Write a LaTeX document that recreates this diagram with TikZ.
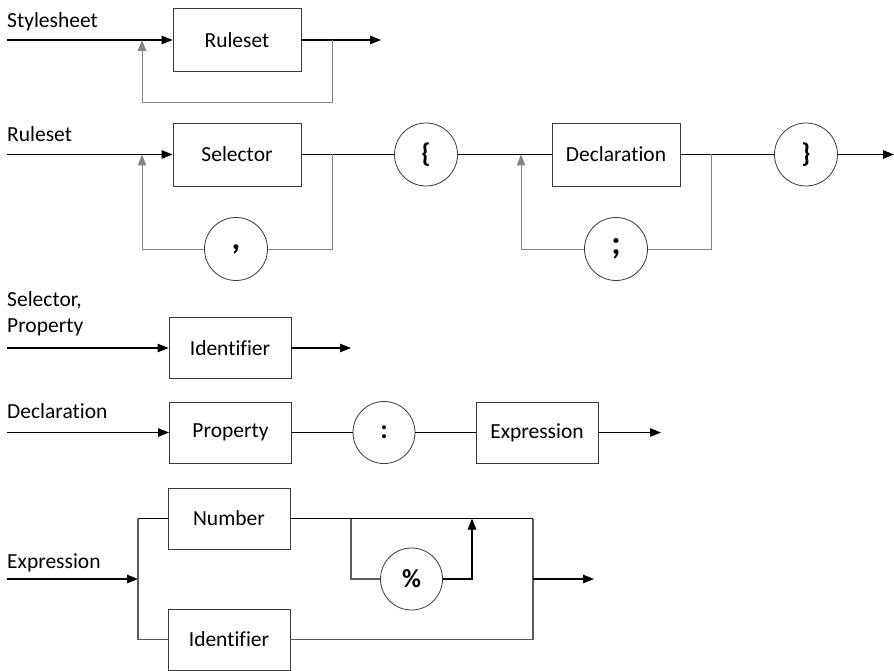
\documentclass[tikz,border=0pt]{standalone}
\usepackage{fontspec}
\setmainfont{Carlito}[Ligatures={NoCommon,NoContextual}]
\usetikzlibrary{arrows.meta}
\definecolor{boxc}{HTML}{3A3A3A}
\definecolor{loopc}{HTML}{858585}
\definecolor{midc}{HTML}{5A5A5A}
\begin{document}
\begin{tikzpicture}[x=1pt,y=-1pt,
  lbl/.style={font=\fontsize{21.5}{25}\selectfont, inner sep=0pt},
  rbox/.style={draw=boxc, line width=0.9pt, minimum width=128pt, minimum height=63pt, inner sep=0pt, font=\fontsize{21.5}{25}\selectfont},
  sbox/.style={rbox, minimum width=122pt, minimum height=61pt},
  term/.style={draw=boxc, circle, line width=0.8pt, minimum size=63pt, inner sep=0pt, font=\fontsize{27}{30}\selectfont\bfseries},
  punct/.style={term, font=\fontsize{34}{36}\selectfont\bfseries},
  wire/.style={line width=1.1pt, draw=black},
  loopw/.style={line width=1pt, draw=loopc},
  midw/.style={line width=1.1pt, draw=midc},
  arr/.style={-{Triangle[length=11pt,width=8.5pt]}}
]
\useasboundingbox (0,0) rectangle (894,671);

% ---------- Row 1: Stylesheet ----------
\node[lbl, anchor=base west] (t1) at (7,28) {Stylesheet};
\node[rbox] (r1) at (237,40) {Ruleset};
\coordinate (s1) at (7,40);
\coordinate (j1a) at (142,40);
\coordinate (j1b) at (332,40);
\coordinate (c1) at (142,103);
\coordinate (e1) at (381,40);
\draw[wire,arr] (s1) -- (r1.west);
\draw[wire,arr] (r1.east) -- (e1);
\draw[loopw,arr] (j1b) |- (c1) -- (j1a);

% ---------- Row 2: Ruleset ----------
\node[lbl, anchor=base west] (t2) at (7,142) {Ruleset};
\node[rbox] (sel) at (237,154.5) {Selector};
\node[term] (lb) at (426,154.5) {\{};
\node[rbox] (decl) at (616,154.5) {Declaration};
\node[term] (rb) at (806,154.5) {\}};
\node[punct] (comma) at (236,249) {,};
\node[punct] (semi) at (616,249) {;};
\coordinate (s2) at (7,154.5);
\coordinate (j2a) at (142,154.5);
\coordinate (j2b) at (332,154.5);
\coordinate (c2a) at (142,249);
\coordinate (j2c) at (521,154.5);
\coordinate (j2d) at (711,154.5);
\coordinate (c2c) at (521,249);
\coordinate (e2) at (894,154.5);
\draw[wire,arr] (s2) -- (sel.west);
\draw[wire] (sel.east) -- (lb.west);
\draw[wire] (lb.east) -- (decl.west);
\draw[wire] (decl.east) -- (rb.west);
\draw[wire,arr] (rb.east) -- (e2);
\draw[loopw] (j2b) |- (comma.east);
\draw[loopw,arr] (comma.west) -- (c2a) -- (j2a);
\draw[loopw] (j2d) |- (semi.east);
\draw[loopw,arr] (semi.west) -- (c2c) -- (j2c);

% ---------- Row 3: Selector, Property ----------
\node[lbl, anchor=base west] (t3a) at (7,306) {Selector,};
\node[lbl, anchor=base west] (t3b) at (7,332) {Property};
\node[sbox] (id1) at (230,348) {Identifier};
\coordinate (s3) at (7,348);
\coordinate (e3) at (351,348);
\draw[wire,arr] (s3) -- (id1.west);
\draw[wire,arr] (id1.east) -- (e3);

% ---------- Row 4: Declaration ----------
\node[lbl, anchor=base west] (t4) at (7,418) {Declaration};
\node[sbox] (prop) at (230.5,432.5) {Property};
\node[term, minimum size=62pt] (colon) at (384,432.5) {:};
\node[sbox] (expr) at (537,432.5) {Expression};
\coordinate (s4) at (7,432.5);
\coordinate (e4) at (661,432.5);
\draw[wire,arr] (s4) -- (prop.west);
\draw[wire] (prop.east) -- (colon.west);
\draw[wire] (colon.east) -- (expr.west);
\draw[wire,arr] (expr.east) -- (e4);

% ---------- Row 5: Expression ----------
\node[lbl, anchor=base west] (t5) at (7,568) {Expression};
\node[sbox] (num) at (229,518.5) {Number};
\node[sbox] (id2) at (229,639.5) {Identifier};
\node[term, minimum size=62pt, font=\fontsize{26}{28}\selectfont\bfseries] (pct) at (411.5,579) {\%};
\coordinate (s5) at (7,579);
\coordinate (j5a) at (138,579);
\coordinate (j5t) at (138,518.5);
\coordinate (j5b) at (138,639.5);
\coordinate (j5c) at (351,518.5);
\coordinate (j5d) at (472,518.5);
\coordinate (c5d) at (472,579);
\coordinate (j5e) at (533,518.5);
\coordinate (j5f) at (533,639.5);
\coordinate (j5g) at (533,579);
\coordinate (e5) at (594,579);
\draw[wire,arr] (s5) -- (j5a);
\draw[midw] (j5t) -- (j5b);
\draw[wire] (j5t) -- (num.west);
\draw[midw] (j5b) -- (id2.west);
\draw[wire] (num.east) -- (j5e);
\draw[midw] (j5e) -- (j5f) -- (id2.east);
\draw[midw] (j5c) |- (pct.west);
\draw[wire,arr] (pct.east) -- (c5d) -- (j5d);
\draw[wire,arr] (j5g) -- (e5);
\end{tikzpicture}
\end{document}
